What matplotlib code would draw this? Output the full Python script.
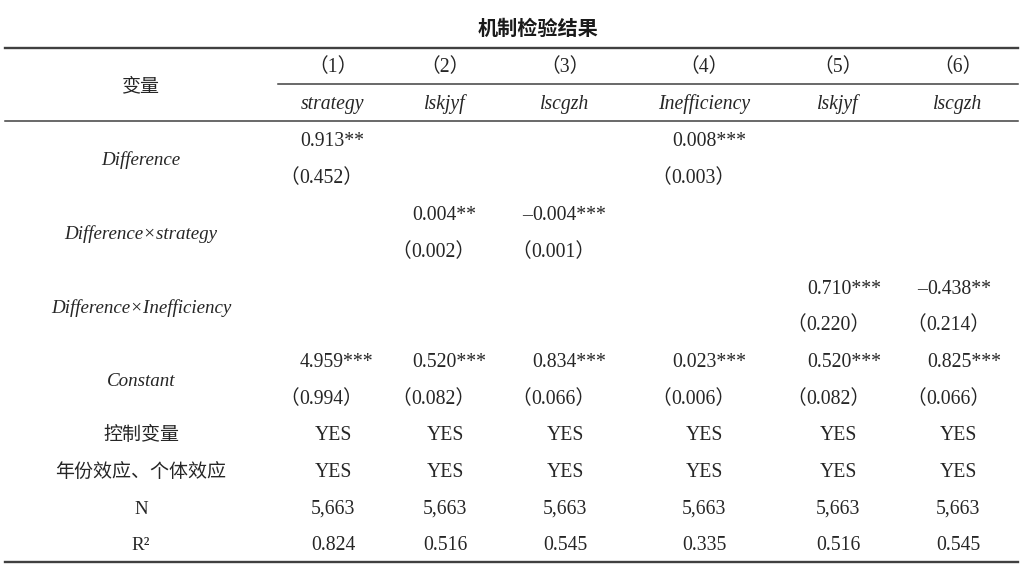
import matplotlib.pyplot as plt

plt.rcParams['font.family'] = ['Liberation Serif', 'Noto Sans CJK SC']

title = "机制检验结果"
col_nums = ["（1）", "（2）", "（3）", "（4）", "（5）", "（6）"]
dep_vars = ["strategy", "lskjyf", "lscgzh", "Inefficiency", "lskjyf", "lscgzh"]

var_names = ["Difference", "Difference×strategy", "Difference×Inefficiency", "Constant"]
# coefficient, stars, standard error per column (None = empty cell)
coefs = [
    [0.913, None, None, 0.008, None, None],
    [None, 0.004, -0.004, None, None, None],
    [None, None, None, None, 0.710, -0.438],
    [4.959, 0.520, 0.834, 0.023, 0.520, 0.825],
]
stars = [
    [2, 0, 0, 3, 0, 0],
    [0, 2, 3, 0, 0, 0],
    [0, 0, 0, 0, 3, 2],
    [3, 3, 3, 3, 3, 3],
]
ses = [
    [0.452, None, None, 0.003, None, None],
    [None, 0.002, 0.001, None, None, None],
    [None, None, None, None, 0.220, 0.214],
    [0.994, 0.082, 0.066, 0.006, 0.082, 0.066],
]

extra_labels = ["控制变量", "年份效应、个体效应", "N", "R²"]
extra_values = [
    ["YES"] * 6,
    ["YES"] * 6,
    ["5,663"] * 6,
    ["0.824", "0.516", "0.545", "0.335", "0.516", "0.545"],
]

# ----- layout (pixels) -----
W, H = 1026, 582
fs = 14.2
fs_lab = 13.7
txt_color = "#262626"
line_color = "#404040"
label_x = 141
col_centers = [333, 445, 565, 704, 838, 958]
num_left = [300, 412, 532, 672, 807, 927]
row_y0, pitch = 142, 36.8

fig = plt.figure(figsize=(W / 100, H / 100), dpi=100)
ax = fig.add_axes([0, 0, 1, 1])
ax.set_xlim(0, W)
ax.set_ylim(H, 0)
ax.axis("off")

# title
ax.text(538, 28, title, ha="center", va="center", fontsize=14.5,
        family="Noto Sans CJK SC", fontweight="bold", color="#1a1a1a")

# rules
ax.plot([5, 1018], [48, 48], color=line_color, lw=1.7)
ax.plot([278, 1018], [84, 84], color=line_color, lw=1.1)
ax.plot([5, 1018], [121, 121], color=line_color, lw=1.1)
ax.plot([5, 1018], [562, 562], color=line_color, lw=1.7)

# header
ax.text(label_x, 86, "变量", ha="center", va="center", fontsize=fs_lab,
        family="Noto Sans CJK SC", color=txt_color)
for j in range(6):
    ax.text(col_centers[j], 68, col_nums[j], ha="center", va="center",
            fontsize=fs, color=txt_color)
    ax.text(col_centers[j], 104, dep_vars[j], ha="center", va="center",
            fontsize=fs, style="italic", color=txt_color)

# coefficient rows
for i, name in enumerate(var_names):
    yc = row_y0 + pitch * (2 * i)
    ys = yc + pitch
    ax.text(label_x, (yc + ys) / 2, name, ha="center", va="center",
            fontsize=fs_lab, style="italic", color=txt_color)
    for j in range(6):
        c = coefs[i][j]
        if c is not None:
            s = f"{abs(c):.3f}" + "*" * stars[i][j]
            ax.text(num_left[j], yc, s, ha="left", va="center",
                    fontsize=fs, color=txt_color)
            if c < 0:
                ax.text(num_left[j], yc, "–", ha="right", va="center",
                        fontsize=fs, color=txt_color)
        se = ses[i][j]
        if se is not None:
            ax.text(num_left[j] - 1, ys, "（", ha="right", va="center",
                    fontsize=fs, color=txt_color)
            ax.text(num_left[j] - 1, ys, f"{se:.3f}）", ha="left", va="center",
                    fontsize=fs, color=txt_color)

# bottom rows
for k, lab in enumerate(extra_labels):
    y = row_y0 - 1 + pitch * (8 + k)
    ax.text(label_x, y, lab, ha="center", va="center", fontsize=fs_lab,
            family=["Liberation Serif", "Noto Sans CJK SC"], color=txt_color)
    for j in range(6):
        ax.text(col_centers[j], y, extra_values[k][j], ha="center",
                va="center", fontsize=fs, color=txt_color)

fig.savefig("out.png", dpi=100, facecolor="white")
